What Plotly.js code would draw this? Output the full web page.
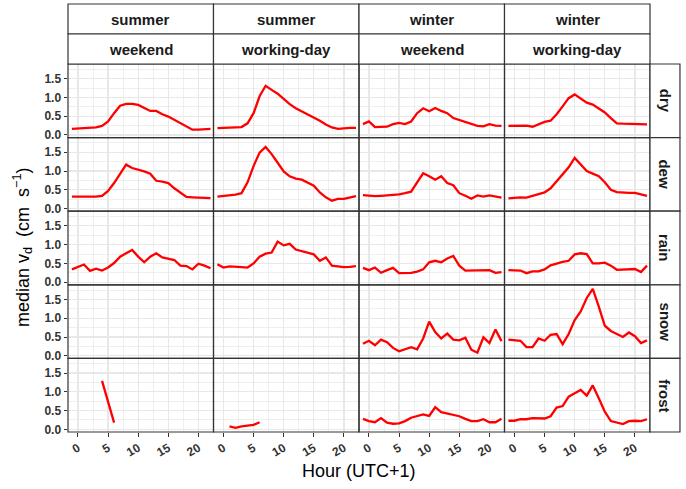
<!DOCTYPE html>
<html>
<head>
<meta charset="utf-8">
<script src="https://cdn.plot.ly/plotly-3.0.1.min.js"></script>
<style>
  html, body { margin: 0; padding: 0; background: #fff; }
  #chart { width: 686px; height: 489px; }
</style>
</head>
<body>
<div id="chart"></div>
<script>
// hours as plotted (UTC+1)
const hours = [-1, 0, 1, 2, 3, 4, 5, 6, 7, 8, 9, 10, 11, 12, 13, 14, 15, 16, 17, 18, 19, 20, 21, 22];

const seasons = ['summer', 'summer', 'winter', 'winter'];
const dayTypes = ['weekend', 'working-day', 'weekend', 'working-day'];
const conditions = ['dry', 'dew', 'rain', 'snow', 'frost'];

// median deposition velocity, cm/s, read per panel
const sumWkendDry = [0.16, 0.17, 0.18, 0.20, 0.20, 0.24, 0.36, 0.58, 0.78, 0.83, 0.83, 0.80, 0.71, 0.64, 0.64, 0.55, 0.49, 0.40, 0.30, 0.21, 0.14, 0.14, 0.15, 0.16];
const sumWorkDry  = [0.18, 0.19, 0.20, 0.20, 0.21, 0.31, 0.58, 1.03, 1.31, 1.20, 1.10, 0.96, 0.82, 0.71, 0.63, 0.55, 0.46, 0.38, 0.28, 0.20, 0.16, 0.18, 0.19, 0.19];
const winWkendDry = [0.29, 0.36, 0.21, 0.21, 0.22, 0.29, 0.32, 0.29, 0.36, 0.58, 0.71, 0.63, 0.72, 0.64, 0.58, 0.45, 0.40, 0.34, 0.29, 0.24, 0.23, 0.29, 0.25, 0.24];
const winWorkDry  = [0.24, 0.24, 0.24, 0.25, 0.22, 0.29, 0.35, 0.38, 0.55, 0.76, 0.98, 1.08, 0.97, 0.86, 0.81, 0.71, 0.60, 0.45, 0.31, 0.30, 0.30, 0.30, 0.30, 0.28];

const sumWkendDew = [0.32, 0.32, 0.31, 0.31, 0.32, 0.34, 0.47, 0.68, 0.93, 1.17, 1.08, 1.04, 0.99, 0.93, 0.74, 0.72, 0.68, 0.54, 0.43, 0.31, 0.30, 0.29, 0.28, 0.28];
const sumWorkDew  = [0.32, 0.33, 0.34, 0.37, 0.41, 0.70, 1.13, 1.49, 1.64, 1.45, 1.22, 0.99, 0.86, 0.80, 0.77, 0.68, 0.61, 0.43, 0.30, 0.21, 0.26, 0.26, 0.29, 0.33];
const winWkendDew = [0.36, 0.34, 0.33, 0.34, 0.35, 0.36, 0.38, 0.41, 0.45, 0.70, 0.94, 0.86, 0.77, 0.86, 0.68, 0.62, 0.41, 0.34, 0.26, 0.35, 0.32, 0.35, 0.33, 0.29];
const winWorkDew  = [0.27, 0.29, 0.30, 0.29, 0.33, 0.37, 0.43, 0.54, 0.72, 0.93, 1.10, 1.35, 1.17, 1.00, 0.93, 0.86, 0.70, 0.50, 0.44, 0.42, 0.42, 0.42, 0.37, 0.34];

const sumWkendRain = [0.34, 0.41, 0.47, 0.30, 0.36, 0.31, 0.39, 0.51, 0.68, 0.77, 0.86, 0.68, 0.53, 0.68, 0.77, 0.66, 0.62, 0.59, 0.44, 0.43, 0.34, 0.49, 0.44, 0.37];
const sumWorkRain  = [0.48, 0.39, 0.42, 0.42, 0.40, 0.39, 0.50, 0.68, 0.76, 0.79, 1.08, 0.98, 1.02, 0.87, 0.83, 0.79, 0.74, 0.57, 0.66, 0.44, 0.41, 0.40, 0.41, 0.43];
const winWkendRain = [0.38, 0.32, 0.39, 0.25, 0.32, 0.38, 0.24, 0.24, 0.25, 0.28, 0.34, 0.53, 0.57, 0.53, 0.63, 0.70, 0.44, 0.31, 0.31, 0.32, 0.32, 0.32, 0.25, 0.27];
const winWorkRain  = [0.32, 0.31, 0.31, 0.24, 0.29, 0.29, 0.34, 0.45, 0.50, 0.54, 0.57, 0.74, 0.77, 0.75, 0.50, 0.50, 0.52, 0.44, 0.33, 0.33, 0.35, 0.35, 0.27, 0.44];

const sumWkendSnow = [];
const sumWorkSnow  = [];
const winWkendSnow = [0.32, 0.40, 0.28, 0.43, 0.36, 0.21, 0.12, 0.17, 0.23, 0.17, 0.46, 0.91, 0.63, 0.46, 0.59, 0.43, 0.41, 0.48, 0.16, 0.08, 0.49, 0.34, 0.70, 0.39];
const winWorkSnow  = [0.43, 0.41, 0.40, 0.23, 0.23, 0.46, 0.40, 0.56, 0.58, 0.31, 0.58, 0.95, 1.18, 1.54, 1.78, 1.31, 0.80, 0.66, 0.58, 0.50, 0.62, 0.52, 0.34, 0.41];

const sumWkendFrost = [null, null, null, null, null, 1.29, 0.74, 0.18, null, null, null, null, null, null, null, null, null, null, null, null, null, null, null, null];
const sumWorkFrost  = [null, null, 0.08, 0.04, 0.08, 0.09, 0.12, 0.19, null, null, null, null, null, null, null, null, null, null, null, null, null, null, null, null];
const winWkendFrost = [0.28, 0.22, 0.19, 0.30, 0.18, 0.15, 0.16, 0.22, 0.31, 0.35, 0.40, 0.36, 0.59, 0.46, 0.42, 0.40, 0.35, 0.28, 0.22, 0.22, 0.27, 0.19, 0.19, 0.28];
const winWorkFrost  = [0.23, 0.23, 0.27, 0.27, 0.30, 0.29, 0.29, 0.35, 0.58, 0.62, 0.87, 0.96, 1.05, 0.90, 1.17, 0.83, 0.47, 0.22, 0.17, 0.14, 0.22, 0.23, 0.22, 0.27];

const panels = [
    [sumWkendDry, sumWorkDry, winWkendDry, winWorkDry],
    [sumWkendDew, sumWorkDew, winWkendDew, winWorkDew],
    [sumWkendRain, sumWorkRain, winWkendRain, winWorkRain],
    [sumWkendSnow, sumWorkSnow, winWkendSnow, winWorkSnow],
    [sumWkendFrost, sumWorkFrost, winWkendFrost, winWorkFrost]
];

const nRows = conditions.length;
const nCols = seasons.length;
const border = '#333333';
const grid = '#e8e8e8';
const tickFont = {family: 'Liberation Sans, Arial, sans-serif', size: 12, color: '#333333', weight: 'bold'};
const stripFont = {family: 'Liberation Sans, Arial, sans-serif', size: 15, color: '#1a1a1a', weight: 'bold'};

const data = [];
const layout = {
    width: 686,
    height: 489,
    margin: {l: 68, r: 36, t: 64, b: 57},
    paper_bgcolor: '#fff',
    plot_bgcolor: 'rgba(0,0,0,0)',
    showlegend: false,
    shapes: [],
    annotations: []
};

for (let r = 0; r < nRows; r++) {
    for (let c = 0; c < nCols; c++) {
        const i = r * nCols + c + 1;
        const s = i === 1 ? '' : String(i);
        const ys = panels[r][c];
        data.push({
            x: ys.length ? hours : [null],
            y: ys.length ? ys : [null],
            xaxis: 'x' + s,
            yaxis: 'y' + s,
            type: 'scatter',
            mode: 'lines',
            line: {color: '#ff0000', width: 2.3},
            connectgaps: false,
            hoverinfo: 'skip'
        });
        const bottom = r === nRows - 1;
        const left = c === 0;
        const xd = [c / nCols, (c + 1) / nCols];
        const yd = [1 - (r + 1) / nRows, 1 - r / nRows];
        layout['xaxis' + s] = {
            domain: xd,
            anchor: 'y' + s,
            range: [-1.65, 22.5],
            tick0: 0, dtick: 5,
            showgrid: true, gridcolor: grid, gridwidth: 1.2,
            minor: {tick0: 0, dtick: 2.5, showgrid: true, gridcolor: grid, gridwidth: 0.7, ticks: ''},
            zeroline: false,
            showline: false,
            ticks: bottom ? 'outside' : '', ticklen: 3.5, tickcolor: border, tickwidth: 1,
            showticklabels: bottom,
            tickangle: -30,
            tickfont: tickFont
        };
        layout['yaxis' + s] = {
            domain: yd,
            anchor: 'x' + s,
            range: [-0.07, 1.89],
            tick0: 0, dtick: 0.5,
            tickformat: '.1f',
            showgrid: true, gridcolor: grid, gridwidth: 1.2,
            minor: {tick0: 0, dtick: 0.25, showgrid: true, gridcolor: grid, gridwidth: 0.7, ticks: ''},
            zeroline: false,
            showline: false,
            ticks: left ? 'outside' : '', ticklen: 3.5, tickcolor: border, tickwidth: 1,
            showticklabels: left,
            tickfont: tickFont
        };
        // panel border
        layout.shapes.push({type: 'rect', xref: 'paper', yref: 'paper', layer: 'above',
            x0: xd[0], x1: xd[1], y0: yd[0], y1: yd[1], line: {color: border, width: 1.2}});
    }
}

// top strips: season over day type
const stripH = 0.0815;
for (let c = 0; c < nCols; c++) {
    const x0 = c / nCols, x1 = (c + 1) / nCols;
    [[seasons[c], 1 + stripH, 1 + 2 * stripH], [dayTypes[c], 1, 1 + stripH]].forEach(function (st) {
        layout.shapes.push({type: 'rect', xref: 'paper', yref: 'paper', x0: x0, x1: x1, y0: st[1], y1: st[2],
            fillcolor: '#fff', line: {color: border, width: 1.2}});
        layout.annotations.push({xref: 'paper', yref: 'paper', x: (x0 + x1) / 2, y: (st[1] + st[2]) / 2,
            text: st[0], showarrow: false, font: stripFont, xanchor: 'center', yanchor: 'middle'});
    });
}

// right strips: condition
for (let r = 0; r < nRows; r++) {
    const y0 = 1 - (r + 1) / nRows, y1 = 1 - r / nRows;
    layout.shapes.push({type: 'rect', xref: 'paper', yref: 'paper', x0: 1, x1: 1.0515, y0: y0, y1: y1,
        fillcolor: '#fff', line: {color: border, width: 1.2}});
    layout.annotations.push({xref: 'paper', yref: 'paper', x: 1.0258, y: (y0 + y1) / 2,
        text: conditions[r], textangle: 90, showarrow: false, font: stripFont, xanchor: 'center', yanchor: 'middle'});
}

// axis titles
layout.annotations.push({xref: 'paper', yref: 'paper', x: 0.5, y: -0.105, text: 'Hour (UTC+1)',
    showarrow: false, xanchor: 'center', yanchor: 'middle',
    font: {family: 'Liberation Sans, Arial, sans-serif', size: 18, color: '#000'}});
layout.annotations.push({xref: 'paper', yref: 'paper', x: -0.079, y: 0.5, textangle: -90,
    text: 'median v<sub>d</sub>  (cm  s<sup>\u22121</sup>)',
    showarrow: false, xanchor: 'center', yanchor: 'middle',
    font: {family: 'Liberation Sans, Arial, sans-serif', size: 18, color: '#000'}});

Plotly.newPlot('chart', data, layout, {staticPlot: true, displayModeBar: false});
</script>
</body>
</html>
